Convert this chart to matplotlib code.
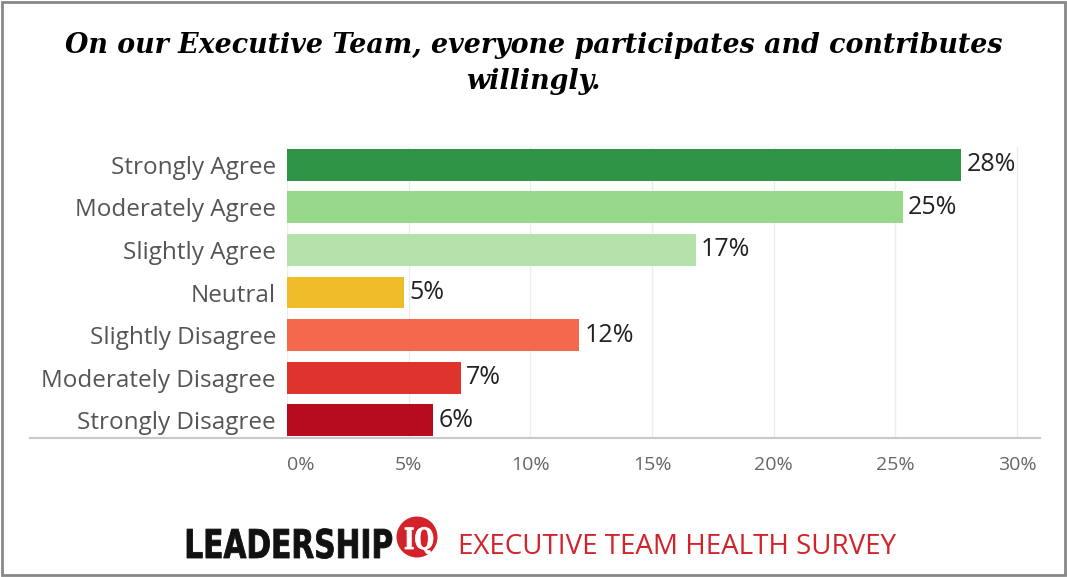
import matplotlib
matplotlib.use("Agg")
import matplotlib.pyplot as plt
from matplotlib.patches import Rectangle, Circle, PathPatch
from matplotlib.textpath import TextPath
from matplotlib.font_manager import FontProperties
from matplotlib.transforms import Affine2D

# data
categories = ["Strongly Agree", "Moderately Agree", "Slightly Agree", "Neutral",
              "Slightly Disagree", "Moderately Disagree", "Strongly Disagree"]
values = [27.7, 25.3, 16.8, 4.8, 12.0, 7.15, 6.0]
labels = ["28%", "25%", "17%", "5%", "12%", "7%", "6%"]
colors = ["#2f9446", "#98d88a", "#b4e2aa", "#f0bd2a", "#f4694d", "#df342e", "#b70b1f"]
ticks = [0, 5, 10, 15, 20, 25, 30]
tick_labels = ["0%", "5%", "10%", "15%", "20%", "25%", "30%"]

RED = "#d2232a"
plt.rcParams['font.family'] = ['Open Sans', 'DejaVu Sans']

fig = plt.figure(figsize=(10.67, 5.77), dpi=100)
ax = fig.add_axes([287 / 1067, 1 - 438 / 577, (1040 - 287) / 1067, (438 - 147) / 577])

ypos = list(range(len(categories)))
ax.barh(ypos, values, height=0.75, color=colors, zorder=2)
for y, v, t in zip(ypos, values, labels):
    ax.text(v + 0.22, y, t, va="center", ha="left", fontsize=18, color="#222222")

ax.set_ylim(len(categories) - 0.58, -0.42)
ax.set_xlim(0, 30.95)
ax.set_yticks(ypos)
ax.set_yticklabels(categories, fontsize=17.5, color="#555555")
ax.set_xticks(ticks)
ax.set_xticklabels(tick_labels, fontsize=14, color="#666666")
ax.get_xticklabels()[0].set_horizontalalignment("left")
ax.tick_params(axis="both", length=0)
ax.tick_params(axis="y", pad=8)
ax.tick_params(axis="x", pad=13)
ax.grid(axis="x", color="#ececec", linewidth=1, zorder=0)
for s in ax.spines.values():
    s.set_visible(False)
# baseline running under the labels too
ax.axhline(len(categories) - 0.58, xmin=-257 / 753, xmax=1, color="#c8c8c8",
           linewidth=1.5, clip_on=False)

fig.text(0.5, 1 - 32 / 577, "On our Executive Team, everyone participates and contributes\nwillingly.",
         ha="center", va="top", fontsize=19.4, fontweight="bold", fontstyle="italic",
         family="DejaVu Serif", linespacing=1.45)


def squeezed_text(s, x0, y0, w, h, color, family, weight="bold"):
    # draw text as a path stretched into a box given in pixels (x0 left, y0 baseline)
    tp = TextPath((0, 0), s, size=1, prop=FontProperties(family=family, weight=weight))
    ext = tp.get_extents()
    tr = Affine2D().translate(-ext.x0, 0).scale(w / ext.width / 100, h / ext.height / 100) \
        .translate(x0 / 100, y0 / 100) + fig.dpi_scale_trans
    fig.patches.append(PathPatch(tp, transform=tr, fc=color, ec=color, lw=0.6))


# footer logo
squeezed_text("LEADERSHIP", 187, 19, 205, 30, "#111111", "DejaVu Sans")
fig.patches.append(Circle((4.17, 0.40), 0.205, transform=fig.dpi_scale_trans,
                          fc=RED, ec="none"))
squeezed_text("IQ", 405, 28, 28, 27, "white", "DejaVu Serif")
fig.text(458 / 1067, 23 / 577, "EXECUTIVE TEAM HEALTH SURVEY", ha="left", va="baseline",
         fontsize=20, color=RED)

fig.patches.append(Rectangle((0.002, 0.003), 0.996, 0.994, transform=fig.transFigure,
                             fill=False, edgecolor="#888888", linewidth=2))

fig.savefig("out.png", dpi=100)
